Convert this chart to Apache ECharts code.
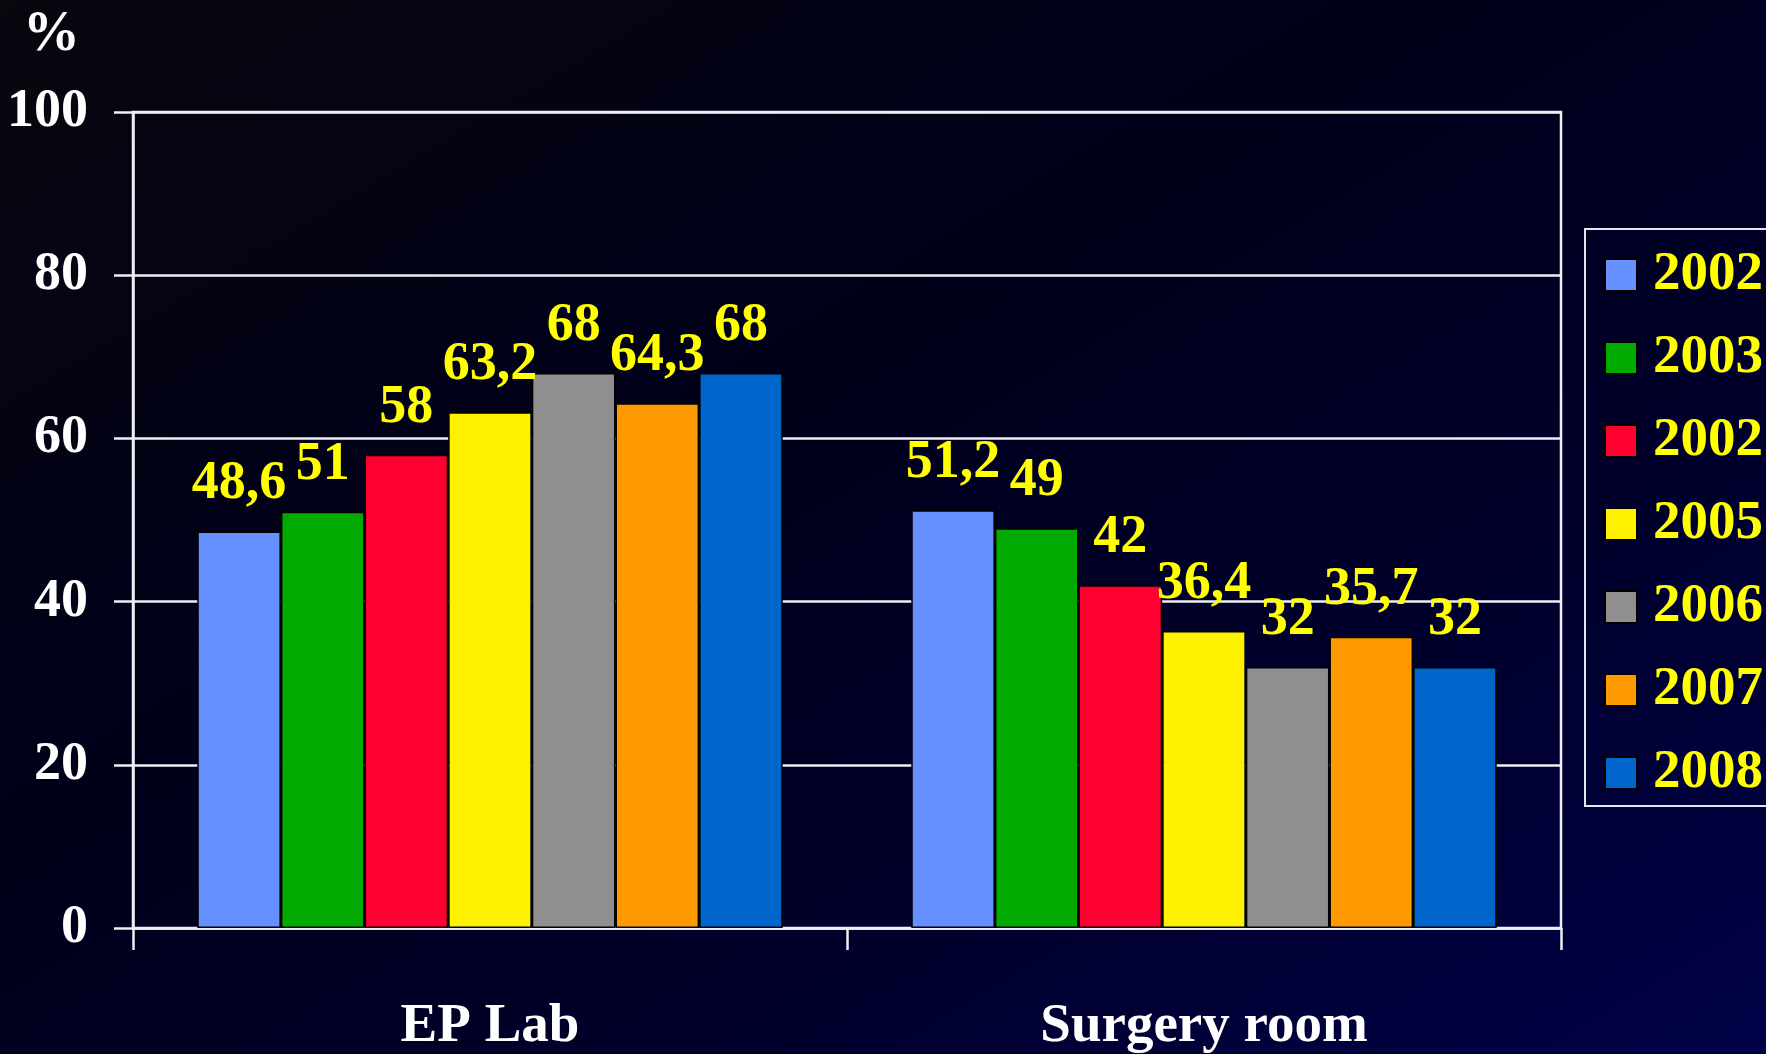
<!DOCTYPE html>
<html>
<head>
<meta charset="utf-8">
<script src="https://cdn.jsdelivr.net/npm/echarts@6/dist/echarts.min.js"></script>
<style>
    html, body {
        margin: 0;
        padding: 0;
    }
    body {
        background: linear-gradient(to bottom right, #07070e 0%, #00001a 40%, #00002c 70%, #000048 100%);
    }
    #myChart {
        width: 1766px;
        height: 1054px;
    }
</style>
</head>
<body>
<div id="myChart"></div>
<script>
const categories = ["EP Lab", "Surgery room"];
// the source legend really lists 2002 twice; the 3rd series gets a trailing space so the legend keeps both
const years = ["2002", "2003", "2002 ", "2005", "2006", "2007", "2008"];
const epLab = [48.6, 51, 58, 63.2, 68, 64.3, 68];
const surgeryRoom = [51.2, 49, 42, 36.4, 32, 35.7, 32];
const yTicks = [0, 20, 40, 60, 80, 100];
const colors = ["#6690ff", "#00aa00", "#ff0030", "#fff200", "#8f8f8f", "#ff9900", "#0066cc"];

const font = '"Liberation Serif", "Times New Roman", serif';

const myChart = echarts.init(document.getElementById("myChart"));

const series = years.map(function (year, i) {
    return {
        name: year,
        type: "bar",
        barGap: 0,
        barCategoryGap: "18%",
        data: [epLab[i], surgeryRoom[i]],
        itemStyle: {
            color: colors[i],
            borderColor: "#000",
            borderWidth: 1.5,
        },
        label: {
            show: true,
            position: "top",
            distance: 20,
            color: "#ffff00",
            fontFamily: font,
            fontWeight: "bold",
            fontSize: 54,
            lineHeight: 54,
            formatter: function (p) {
                return String(p.value).replace(".", ",");
            },
        },
    };
});

const option = {
    animation: false,
    backgroundColor: "transparent",
    title: {
        text: "%",
        left: 18,
        top: 2,
        textStyle: {
            color: "#fff",
            fontFamily: font,
            fontWeight: "bold",
            fontSize: 57,
        },
    },
    legend: {
        orient: "vertical",
        left: 1585,
        top: 229,
        padding: [18, 60, 5, 19],
        itemWidth: 32,
        itemHeight: 32,
        itemGap: 27,
        borderColor: "#e6e6ee",
        borderWidth: 2,
        icon: "rect",
        data: years,
        formatter: function (name) {
            return name.trim();
        },
        textStyle: {
            color: "#ffff00",
            fontFamily: font,
            fontWeight: "bold",
            fontSize: 55,
            lineHeight: 56,
            padding: [0, 0, 0, 11],
        },
    },
    grid: {
        left: 133,
        right: 205,
        top: 112,
        bottom: 123,
        show: true,
        borderColor: "#eeeef4",
        borderWidth: 2.5,
        backgroundColor: "transparent",
    },
    xAxis: {
        type: "category",
        data: categories,
        axisLine: { lineStyle: { color: "#eeeef4", width: 2.5 } },
        axisTick: { show: true, length: 22, lineStyle: { color: "#eeeef4", width: 2.5 } },
        axisLabel: {
            color: "#fff",
            fontFamily: font,
            fontWeight: "bold",
            fontSize: 55,
            lineHeight: 55,
            margin: 71,
        },
    },
    yAxis: {
        type: "value",
        min: yTicks[0],
        max: yTicks[yTicks.length - 1],
        interval: yTicks[1] - yTicks[0],
        axisLine: { show: true, lineStyle: { color: "#eeeef4", width: 2.5 } },
        axisTick: { show: true, length: 19, lineStyle: { color: "#eeeef4", width: 2.5 } },
        splitLine: { show: true, lineStyle: { color: "#eeeef4", width: 2.5 } },
        axisLabel: {
            color: "#fff",
            fontFamily: font,
            fontWeight: "bold",
            fontSize: 54,
            margin: 45,
        },
    },
    series: series,
};

myChart.setOption(option);
</script>
</body>
</html>
